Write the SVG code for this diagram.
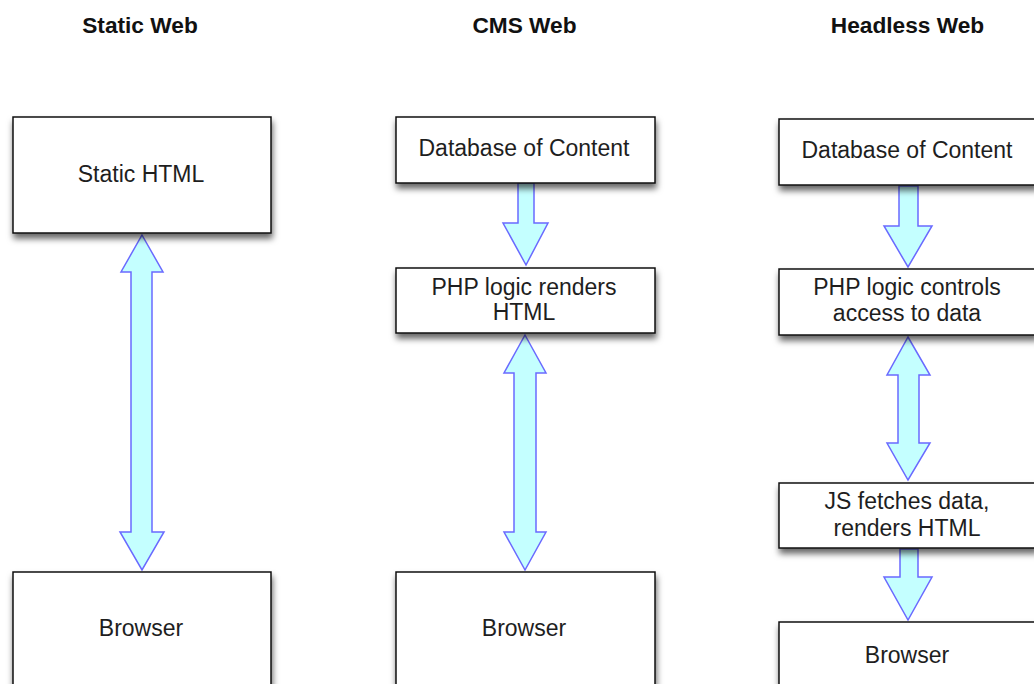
<svg xmlns="http://www.w3.org/2000/svg" width="1034" height="684" viewBox="0 0 1034 684">
<style>
.box{fill:#fff;stroke:#111;stroke-width:1.5;filter:url(#sh)}
.lbl{font-family:"Liberation Sans",Arial,sans-serif;font-size:23px;fill:#1e1e1e;text-anchor:middle}
.hd{font-family:"Liberation Sans",Arial,sans-serif;font-size:22.7px;font-weight:bold;fill:#111;text-anchor:middle}
.arr{fill:#c4ffff;stroke:#6a6aff;stroke-width:1.5;stroke-linejoin:miter}
</style>
<defs>
<filter id="sh" x="-10%" y="-20%" width="130%" height="160%">
<feDropShadow dx="1" dy="5" stdDeviation="3" flood-color="#000" flood-opacity="0.6"/>
</filter>
</defs>
<rect width="1034" height="684" fill="#fff"/>
<g id="headings">
<text class="hd" x="140" y="33">Static Web</text>
<text class="hd" x="524.5" y="33">CMS Web</text>
<text class="hd" x="907.5" y="33">Headless Web</text>
</g>
<g id="connectors">
<path class="arr" d="M142,235 L163,272 L152,272 L152,532 L164,532 L142,570 L120,532 L131,532 L131,272 L121,272 Z"/>
<path class="arr" d="M518,183 L534,183 L534,223 L548,223 L526,265 L503,223 L518,223 Z"/>
<path class="arr" d="M525,335 L546,373 L536,373 L536,532 L546,532 L525,570 L504,532 L514,532 L514,373 L504,373 Z"/>
<path class="arr" d="M899,186 L918,186 L918,226 L932,226 L908,267 L884,226 L899,226 Z"/>
<path class="arr" d="M908,337 L930,375 L919,375 L919,443 L930,443 L908,480 L887,443 L898,443 L898,375 L887,375 Z"/>
<path class="arr" d="M900,549 L918,549 L918,577 L932,577 L908,620 L884,577 L900,577 Z"/>
</g>
<g id="static-html"><rect class="box" x="13" y="117" width="258" height="116"/><text class="lbl" x="141" y="182">Static HTML</text></g>
<g id="static-browser"><rect class="box" x="13" y="572" width="258" height="150"/><text class="lbl" x="141" y="636">Browser</text></g>
<g id="cms-db"><rect class="box" x="396" y="117" width="259" height="66"/><text class="lbl" x="524" y="156">Database of Content</text></g>
<g id="cms-php"><rect class="box" x="396" y="268" width="259" height="65"/><text class="lbl" x="524" y="295">PHP logic renders</text><text class="lbl" x="524" y="320">HTML</text></g>
<g id="cms-browser"><rect class="box" x="396" y="572" width="259" height="150"/><text class="lbl" x="524" y="636">Browser</text></g>
<g id="hl-db"><rect class="box" x="779" y="119" width="258" height="66"/><text class="lbl" x="907" y="158">Database of Content</text></g>
<g id="hl-php"><rect class="box" x="779" y="269" width="258" height="66"/><text class="lbl" x="907" y="295">PHP logic controls</text><text class="lbl" x="907" y="321">access to data</text></g>
<g id="hl-js"><rect class="box" x="779" y="483" width="258" height="65"/><text class="lbl" x="907" y="509">JS fetches data,</text><text class="lbl" x="907" y="536">renders HTML</text></g>
<g id="hl-browser"><rect class="box" x="779" y="622" width="258" height="120"/><text class="lbl" x="907" y="663">Browser</text></g>
</svg>
